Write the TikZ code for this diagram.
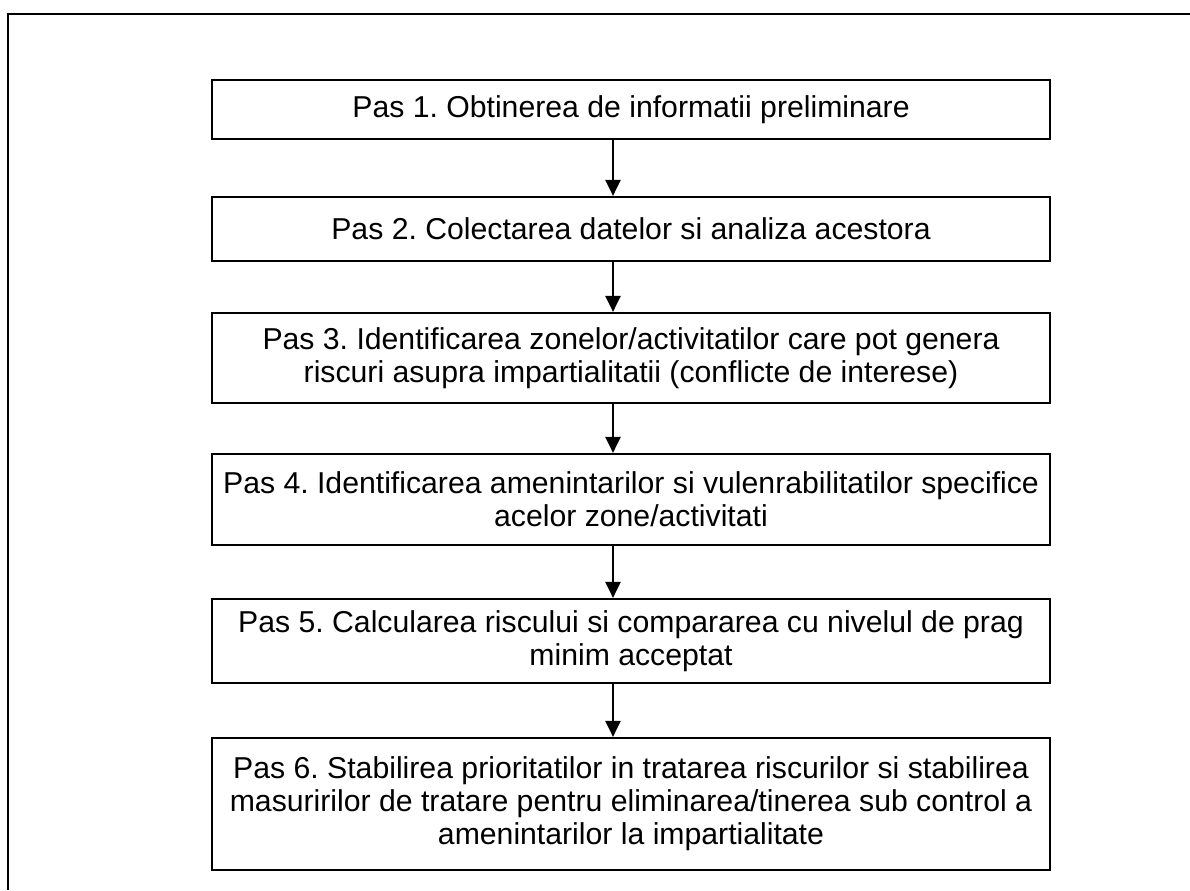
\documentclass[tikz,border=0pt]{standalone}
\usepackage{fontspec}
\setmainfont{Liberation Sans}
\usetikzlibrary{arrows.meta}
\frenchspacing
\begin{document}
\begin{tikzpicture}[x=0.5pt,y=-0.5pt,
  stepbox/.style={draw, line width=1.1pt, minimum width=419pt, align=center, inner sep=0pt,
    font=\fontsize{15.1}{16.5}\selectfont},
  arr/.style={-{Triangle[width=7.5pt,length=8pt]}, line width=1.2pt},
  frame/.style={line width=1.1pt}]
\useasboundingbox (0,0) rectangle (1190,890);
\draw[frame] (8,890) -- (8,14) -- (1190,14);
\coordinate (ax) at (613,0);
\node[stepbox, minimum height=29.5pt] (b1) at (631,109.5) {Pas 1. Obtinerea de informatii preliminare};
\node[stepbox, minimum height=32pt] (b2) at (631,229) {Pas 2. Colectarea datelor si analiza acestora};
\node[stepbox, minimum height=45pt] (b3) at (631,358) {Pas 3. Identificarea zonelor/activitatilor care pot genera\\riscuri asupra impartialitatii (conflicte de interese)};
\node[stepbox, minimum height=45.5pt] (b4) at (631,499.5) {Pas 4. Identificarea amenintarilor si vulenrabilitatilor specifice\\acelor zone/activitati};
\node[stepbox, minimum height=42pt] (b5) at (631,641) {Pas 5. Calcularea riscului si compararea cu nivelul de prag\\minim acceptat};
\node[stepbox, minimum height=66pt] (b6) at (631,804) {Pas 6. Stabilirea prioritatilor in tratarea riscurilor si stabilirea\\masuririlor de tratare pentru eliminarea/tinerea sub control a\\amenintarilor la impartialitate};
\draw[arr] (b1.south -| ax) -- (b2.north -| ax);
\draw[arr] (b2.south -| ax) -- (b3.north -| ax);
\draw[arr] (b3.south -| ax) -- (b4.north -| ax);
\draw[arr] (b4.south -| ax) -- (b5.north -| ax);
\draw[arr] (b5.south -| ax) -- (b6.north -| ax);
\end{tikzpicture}
\end{document}
